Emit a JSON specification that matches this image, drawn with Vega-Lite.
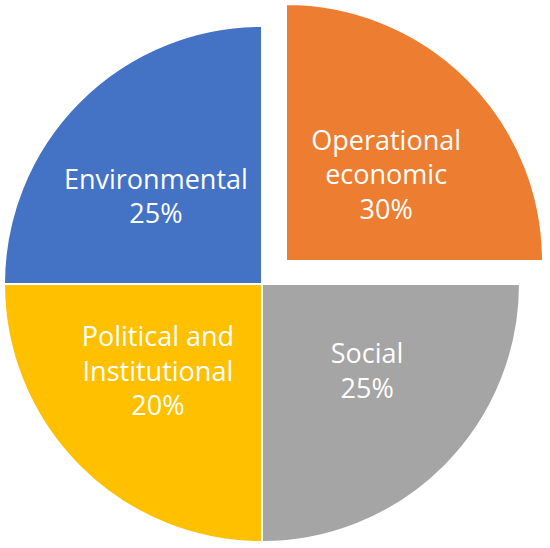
{
  "$schema": "https://vega.github.io/schema/vega-lite/v6.json",
  "width": 524,
  "height": 528,
  "padding": {"left": 0, "right": 26, "top": 20, "bottom": 0},
  "autosize": "none",
  "background": "white",
  "view": {"stroke": null},
  "data": {
    "values": [
      {"category": "Operational economic", "rank": 1, "slice": 25, "label": ["Operational", "economic", "30%"]},
      {"category": "Social", "rank": 2, "slice": 25, "label": ["Social", "25%"]},
      {"category": "Political and Institutional", "rank": 3, "slice": 25, "label": ["Political and", "Institutional", "20%"]},
      {"category": "Environmental", "rank": 4, "slice": 25, "label": ["Environmental", "25%"]}
    ]
  },
  "encoding": {
    "theta": {"field": "slice", "type": "quantitative", "stack": true},
    "order": {"field": "rank", "type": "quantitative", "sort": "ascending"},
    "color": {
      "field": "category",
      "type": "nominal",
      "scale": {
        "domain": ["Operational economic", "Social", "Political and Institutional", "Environmental"],
        "range": ["#ED7D31", "#A5A5A5", "#FFC000", "#4472C4"]
      },
      "legend": null
    }
  },
  "layer": [
    {
      "mark": {"type": "arc", "outerRadius": 258, "stroke": "white", "strokeWidth": 2},
      "encoding": {
        "opacity": {"condition": {"test": "datum.category === 'Operational economic'", "value": 0}, "value": 1}
      }
    },
    {
      "mark": {"type": "arc", "outerRadius": 257, "stroke": "white", "strokeWidth": 2, "xOffset": 24, "yOffset": -23},
      "encoding": {
        "opacity": {"condition": {"test": "datum.category === 'Operational economic'", "value": 1}, "value": 0}
      }
    },
    {
      "mark": {"type": "text", "radius": 143, "dx": -5, "dy": 6, "font": "Open Sans", "fontSize": 27, "lineHeight": 34.5, "align": "center", "baseline": "alphabetic"},
      "encoding": {
        "fill": {"value": "white"},
        "text": {"condition": {"test": "datum.category === 'Environmental'", "field": "label"}, "value": ""}
      }
    },
    {
      "mark": {"type": "text", "radius": 143, "dx": -3, "dy": -39, "font": "Open Sans", "fontSize": 27, "lineHeight": 34.5, "align": "center", "baseline": "alphabetic"},
      "encoding": {
        "fill": {"value": "white"},
        "text": {"condition": {"test": "datum.category === 'Political and Institutional'", "field": "label"}, "value": ""}
      }
    },
    {
      "mark": {"type": "text", "radius": 143, "dx": 4, "dy": -22, "font": "Open Sans", "fontSize": 27, "lineHeight": 34.5, "align": "center", "baseline": "alphabetic"},
      "encoding": {
        "fill": {"value": "white"},
        "text": {"condition": {"test": "datum.category === 'Social'", "field": "label"}, "value": ""}
      }
    },
    {
      "mark": {"type": "text", "radius": 143, "dx": -1, "dy": -10, "xOffset": 24, "yOffset": -23, "font": "Open Sans", "fontSize": 27, "lineHeight": 34.5, "align": "center", "baseline": "alphabetic"},
      "encoding": {
        "fill": {"value": "white"},
        "text": {"condition": {"test": "datum.category === 'Operational economic'", "field": "label"}, "value": ""}
      }
    }
  ]
}
